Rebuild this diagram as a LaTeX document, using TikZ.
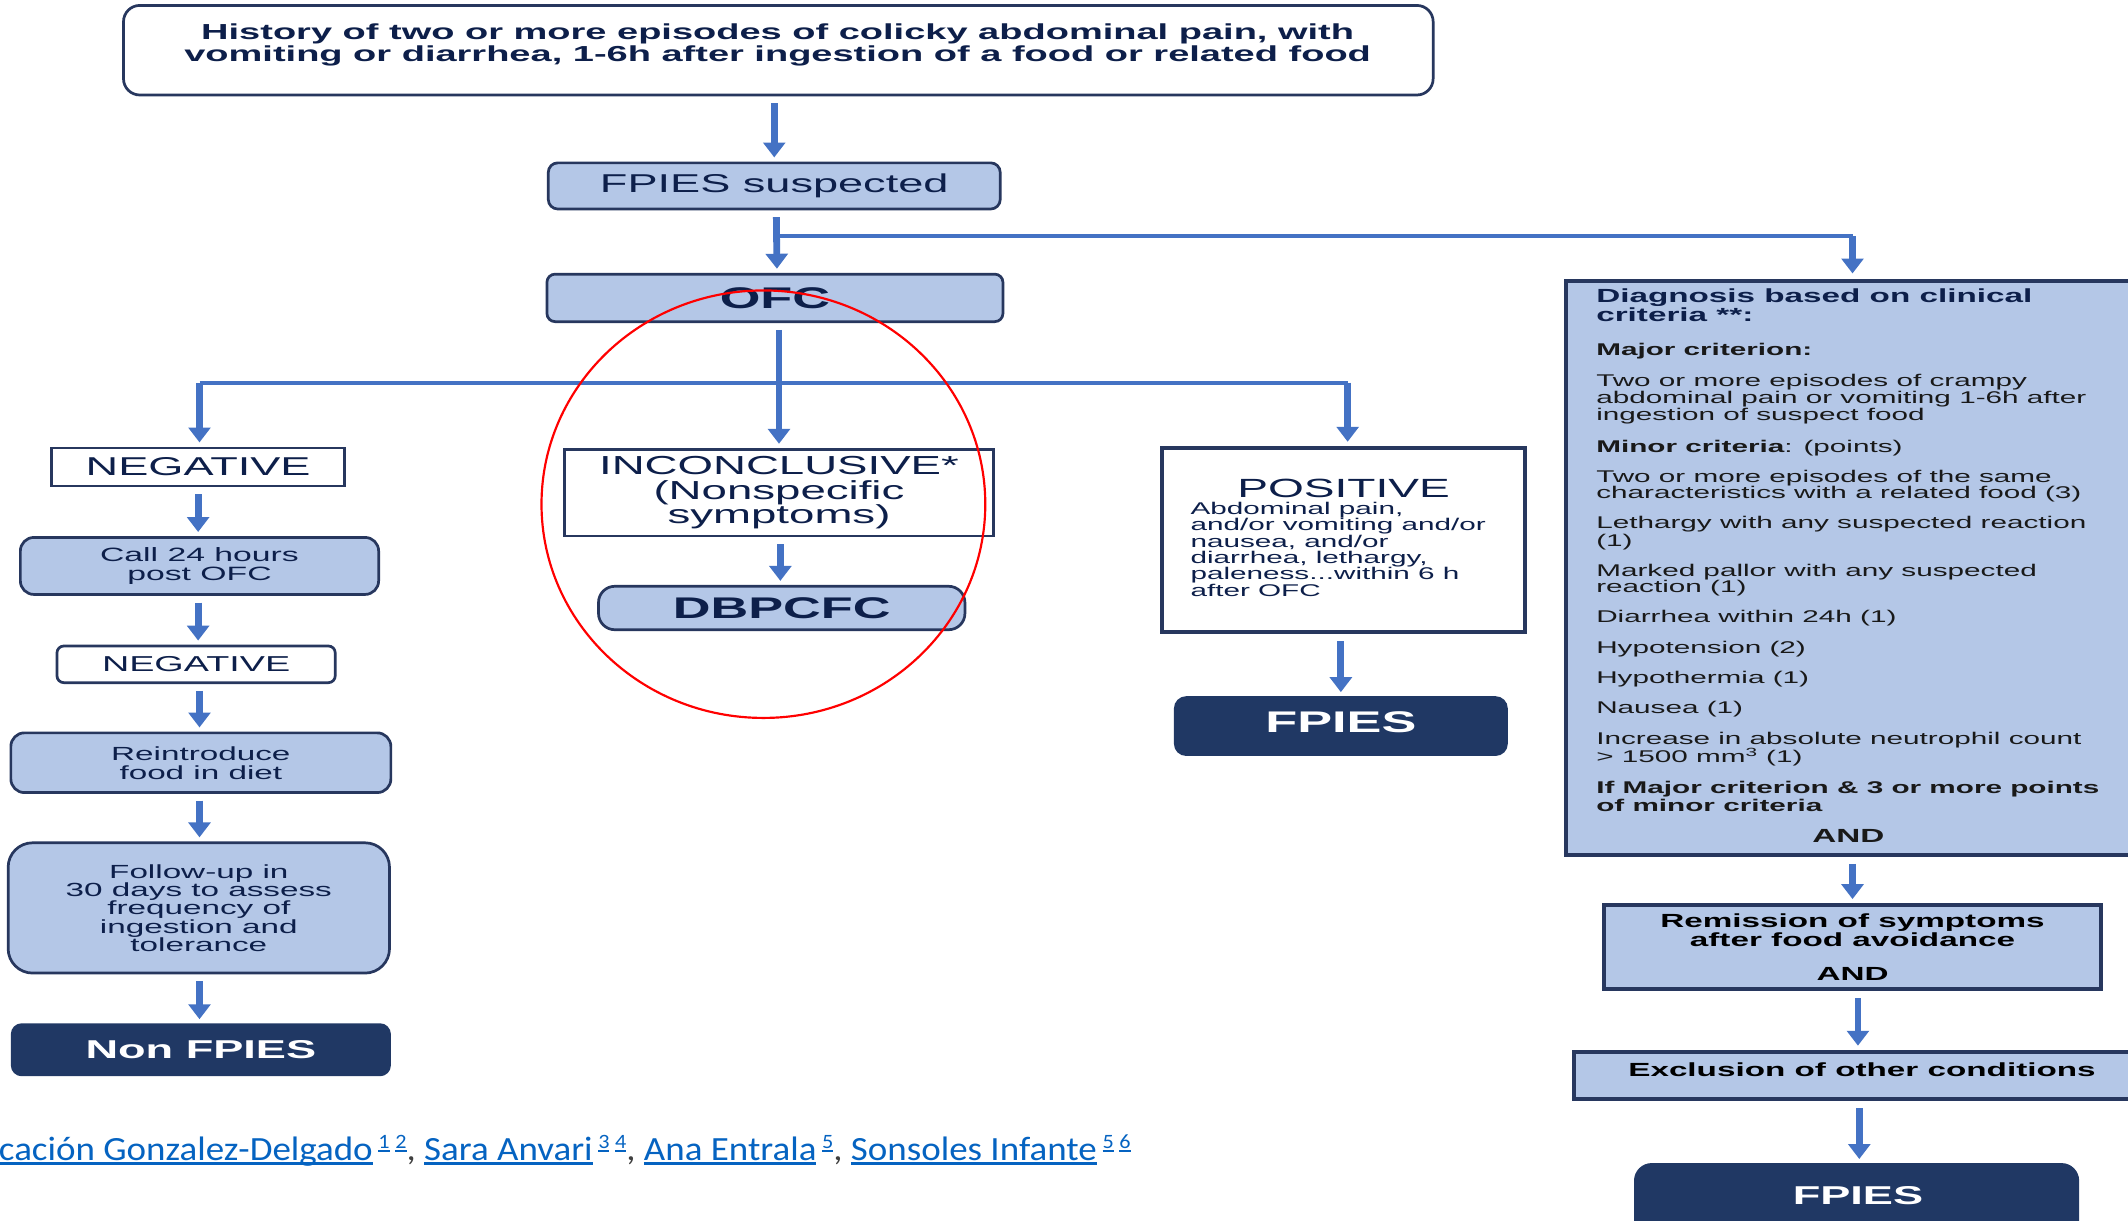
\documentclass[tikz,border=0pt]{standalone}
\usepackage{fontspec}
\setmainfont{Liberation Sans}
\newfontfamily\wf[FakeStretch=1.75]{Liberation Sans}
\newfontfamily\authfont[FakeStretch=1.09]{Carlito}
\usetikzlibrary{arrows.meta}
\definecolor{navy}{HTML}{203864}
\definecolor{edge}{HTML}{27375E}
\definecolor{pale}{HTML}{B4C7E7}
\definecolor{flow}{HTML}{4472C4}
\definecolor{ink}{HTML}{0D1F4A}
\definecolor{link}{HTML}{0563C1}
% underlined link text and raised reference numbers
\newcommand\lnk[1]{\setbox0=\hbox{#1}\rlap{\rule[-3.5pt]{\wd0}{2pt}}\box0}
\newcommand\noteref[1]{\raisebox{9pt}{\fontsize{15}{15}\selectfont\setbox0=\hbox{#1}\rlap{\rule[-2.5pt]{\wd0}{1.5pt}}\box0}}
\begin{document}
\begin{tikzpicture}[x=1pt,y=-1pt,
  box/.style={draw=edge, line width=2pt, inner sep=0pt, align=center, text=ink},
  palebox/.style={box, fill=pale},
  whitebox/.style={box, fill=white},
  darkbox/.style={box, fill=navy, draw=navy, text=white},
  arr/.style={draw=flow, line width=5pt, -{Triangle[width=16pt,length=11pt]}, shorten <=5pt, shorten >=3pt},
  bus/.style={draw=flow, line width=3pt},
  crit/.style={anchor=base west, inner sep=0pt, font=\wf\fontsize{12.5}{12.5}\selectfont, text=black!90},
  critb/.style={crit, font=\wf\bfseries\fontsize{12.5}{12.5}\selectfont},
  head/.style={crit, font=\wf\bfseries\fontsize{14}{14}\selectfont, text=ink}]
\path[use as bounding box, fill=white] (0,0) rectangle (1568,899);

% --- main column ---
\node[whitebox, rounded corners=12pt, minimum width=965pt, minimum height=66pt] (hist) at (573.5,37) {};
\node[font=\wf\bfseries\fontsize{16}{16}\selectfont, text=ink, align=center] (histT) at (573,33)
  {History of two or more episodes of colicky abdominal pain, with\\vomiting or diarrhea, 1-6h after ingestion of a food or related food};
\node[palebox, rounded corners=7pt, minimum width=333pt, minimum height=34pt, font=\wf\fontsize{19}{19}\selectfont] (susp) at (570.5,137) {FPIES suspected};
\node[palebox, rounded corners=6pt, minimum width=336pt, minimum height=35pt, font=\wf\bfseries\fontsize{22}{22}\selectfont] (ofc) at (571,219.5) {OFC};

% --- negative branch ---
\node[whitebox, minimum width=216pt, minimum height=28pt, font=\wf\fontsize{19}{19}\selectfont] (neg1) at (146,344) {NEGATIVE};
\node[palebox, rounded corners=10pt, minimum width=264pt, minimum height=42pt, font=\wf\fontsize{14.2}{14}\selectfont] (call) at (147,417) {Call 24 hours\\post OFC};
\node[whitebox, rounded corners=5pt, minimum width=205pt, minimum height=27pt, font=\wf\fontsize{15.9}{16}\selectfont] (neg2) at (144.5,489.5) {NEGATIVE};
\node[palebox, rounded corners=10pt, minimum width=280pt, minimum height=44pt, font=\wf\fontsize{14}{14}\selectfont] (reint) at (148,562) {Reintroduce\\food in diet};
\node[palebox, rounded corners=18pt, minimum width=281pt, minimum height=96pt, font=\wf\fontsize{14}{13.5}\selectfont] (follow) at (146.5,669) {Follow-up in\\30 days to assess\\frequency of\\ingestion and\\tolerance};
\node[darkbox, rounded corners=7pt, minimum width=278pt, minimum height=37pt, font=\wf\bfseries\fontsize{19}{19}\selectfont] (nonf) at (148,773.5) {Non FPIES};

% --- inconclusive branch ---
\node[whitebox, minimum width=316pt, minimum height=64pt, font=\wf\fontsize{19.2}{18}\selectfont] (inc) at (574,363) {INCONCLUSIVE*\\(Nonspecific\\symptoms)};
\node[palebox, rounded corners=12pt, minimum width=270pt, minimum height=32pt, font=\wf\bfseries\fontsize{22}{22}\selectfont] (dbp) at (576,448) {DBPCFC};

% --- positive branch ---
\node[whitebox, line width=3pt, minimum width=268pt, minimum height=136pt] (pos) at (990,398) {};
\node[font=\wf\fontsize{19.4}{19}\selectfont, text=ink, inner sep=0pt] (posT) at (990,360) {POSITIVE};
\node[anchor=north west, inner sep=0pt, align=left, text=ink, font=\wf\fontsize{12.5}{12}\selectfont] (posB) at (877,370)
  {Abdominal pain,\\and/or vomiting and/or\\nausea, and/or\\diarrhea, lethargy,\\paleness...within 6 h\\after OFC};
\node[darkbox, rounded corners=8pt, minimum width=244pt, minimum height=42pt] (fp1) at (988,535) {};
\node[text=white, inner sep=0pt, font=\wf\bfseries\fontsize{22}{22}\selectfont] (fp1T) at (988,532) {FPIES};

% --- clinical criteria branch ---
\node[palebox, line width=3pt, minimum width=418pt, minimum height=423pt] (diag) at (1363,418.5) {};
\node[head] (d1) at (1176,223) {Diagnosis based on clinical};
\node[head] (d2) at (1176,237) {criteria **:};
\node[critb] (d3) at (1176,262) {Major criterion:};
\node[crit] (d4) at (1176,284.5) {Two or more episodes of crampy};
\node[crit] (d5) at (1176,297.5) {abdominal pain or vomiting 1-6h after};
\node[crit] (d6) at (1176,309.5) {ingestion of suspect food};
\node[crit] (d7) at (1176,333.5) {{\bfseries Minor criteria}: (points)};
\node[crit] (d8) at (1176,355.5) {Two or more episodes of the same};
\node[crit] (d9) at (1176,367.5) {characteristics with a related food (3)};
\node[crit] (d10) at (1176,389.5) {Lethargy with any suspected reaction};
\node[crit] (d11) at (1176,402.5) {(1)};
\node[crit] (d12) at (1176,424.5) {Marked pallor with any suspected};
\node[crit] (d13) at (1176,436.5) {reaction (1)};
\node[crit] (d14) at (1176,458.5) {Diarrhea within 24h (1)};
\node[crit] (d15) at (1176,481.5) {Hypotension (2)};
\node[crit] (d16) at (1176,503.5) {Hypothermia (1)};
\node[crit] (d17) at (1176,525.5) {Nausea (1)};
\node[crit] (d18) at (1176,548.5) {Increase in absolute neutrophil count};
\node[crit] (d19) at (1176,561.5) {> 1500 mm\textsuperscript{3} (1)};
\node[critb] (d20) at (1176,585) {If Major criterion \& 3 or more points};
\node[critb] (d21) at (1176,598) {of minor criteria};
\node[critb, anchor=base, font=\wf\bfseries\fontsize{14}{14}\selectfont] (d22) at (1362,621) {AND};

\node[palebox, line width=3pt, minimum width=366pt, minimum height=62pt, text=black, font=\wf\bfseries\fontsize{14}{14}\selectfont] (rem) at (1365,698)
  {Remission of symptoms\\after food avoidance\\[11pt]AND};
\node[palebox, line width=3pt, minimum width=415pt, minimum height=35pt] (exc) at (1367.5,792.5) {};
\node[text=black, inner sep=0pt, font=\wf\bfseries\fontsize{14}{14}\selectfont] (excT) at (1372,788) {Exclusion of other conditions};
\node[darkbox, rounded corners=12pt, minimum width=326pt, minimum height=57pt] (fp2) at (1368,886.5) {};
\node[text=white, inner sep=0pt, font=\wf\bfseries\fontsize{19}{19}\selectfont] (fp2T) at (1369,881) {FPIES};

% --- connectors ---
\coordinate (j1) at (572,174);
\coordinate (j2) at (574,282);
\draw[arr] (susp.north |- hist.south) -- (susp.north);
\draw[arr] ([xshift=1.5pt]susp.south) -- ([xshift=1.5pt]ofc.north);
\draw[bus] (j1) -- ([xshift=2pt]j1 -| diag.north);
\draw[arr, shorten <=0pt, shorten >=4pt] ([xshift=2pt]j1 -| diag.north) -- ([xshift=2pt]diag.north);
\draw[bus] ([xshift=1pt]neg1.north |- j2) -- ([xshift=3pt]pos.north |- j2);
\draw[arr] ([xshift=3pt]ofc.south) -- ([xshift=3pt]ofc.south |- inc.north);
\draw[arr, shorten <=0pt] ([xshift=1pt]neg1.north |- j2) -- ([xshift=1pt]neg1.north);
\draw[arr, shorten <=0pt] ([xshift=3pt]pos.north |- j2) -- ([xshift=3pt]pos.north);
\draw[arr] (neg1.south) -- (neg1.south |- call.north);
\draw[arr] (neg1.south |- call.south) -- (neg1.south |- neg2.north);
\draw[arr] ([xshift=1pt]neg1.south |- neg2.south) -- ([xshift=1pt]neg1.south |- reint.north);
\draw[arr] ([xshift=1pt]neg1.south |- reint.south) -- ([xshift=1pt]neg1.south |- follow.north);
\draw[arr] ([xshift=1pt]neg1.south |- follow.south) -- ([xshift=1pt]neg1.south |- nonf.north);
\draw[arr] ([xshift=1pt]inc.south) -- ([xshift=1pt]inc.south |- dbp.north);
\draw[arr] (fp1.north |- pos.south) -- (fp1.north);
\draw[arr] ([xshift=2pt]diag.south) -- ([xshift=2pt]diag.south |- rem.north);
\draw[arr] ([xshift=4pt]rem.south) -- ([xshift=4pt]rem.south |- exc.north);
\draw[arr] ([xshift=2pt]fp2.north |- exc.south) -- ([xshift=2pt]fp2.north);

% --- highlight ring ---
\draw[red, line width=1.6pt] (562.5,371.5) ellipse [x radius=163.5pt, y radius=157.5pt];

% --- author line ---
\node[anchor=base west, inner sep=0pt, text=link, font=\authfont\fontsize{25}{25}\selectfont] (auth) at (-1,855)
  {\lnk{cación Gonzalez-Delgado}\,\noteref{1}\,\noteref{2}{\color{darkgray},} \lnk{Sara Anvari}\,\noteref{3}\,\noteref{4}{\color{darkgray},} \lnk{Ana Entrala}\,\noteref{5}{\color{darkgray},} \lnk{Sonsoles Infante}\,\noteref{5}\,\noteref{6}};
\end{tikzpicture}
\end{document}
